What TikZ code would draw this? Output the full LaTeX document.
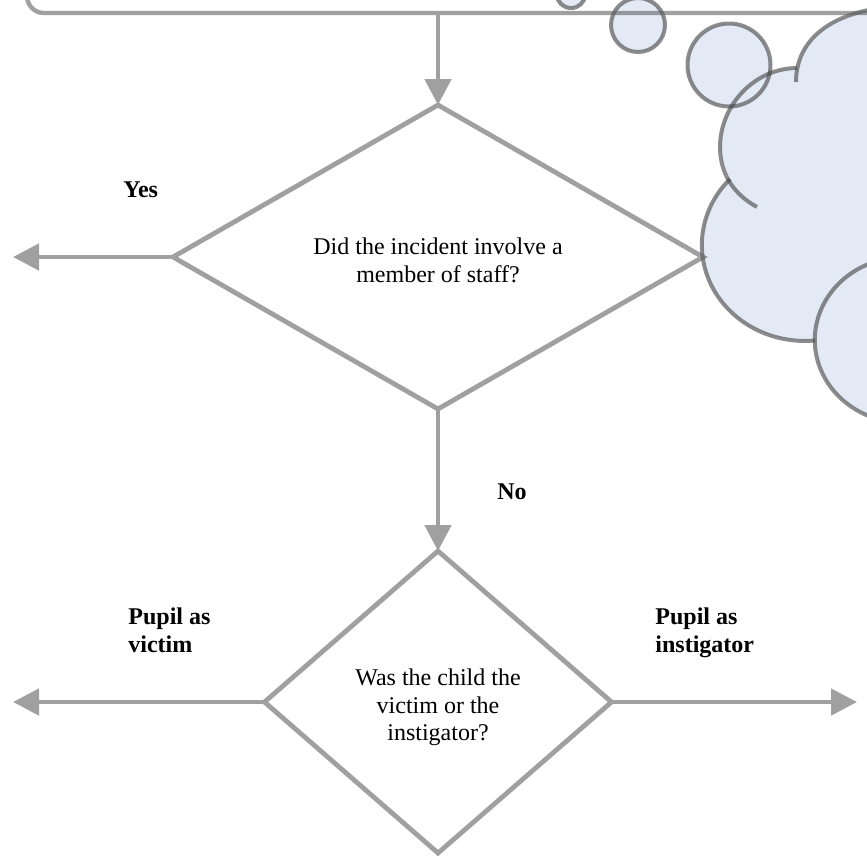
\documentclass[tikz,border=0pt]{standalone}
\usepackage{fontspec}
\setmainfont{Liberation Serif}
\usetikzlibrary{shapes.geometric,arrows.meta}
\definecolor{linegray}{RGB}{96,96,96}
\definecolor{arrowgray}{RGB}{160,160,160}
\definecolor{cloudline}{RGB}{64,64,64}
\definecolor{cloudfill}{RGB}{227,234,245}
\begin{document}
\begin{tikzpicture}[x=0.5pt,y=-0.5pt,
  conn/.style={draw=arrowgray, line width=2.4pt, -{Triangle[length=13pt,width=13pt]}},
  decision/.style={diamond, draw=linegray, draw opacity=0.6, line width=2.4pt, inner sep=0pt, outer sep=0pt},
  boxstyle/.style={rectangle, draw=linegray, draw opacity=0.6, line width=2.2pt, rounded corners=8.5pt, inner sep=0pt, outer sep=0pt},
  cloudstroke/.style={draw=cloudline, draw opacity=0.6, line width=2pt},
  txt/.style={font=\fontsize{12}{14}\selectfont, inner sep=0pt},
  lbl/.style={font=\fontsize{12}{14}\selectfont\bfseries, inner sep=0pt}]
\useasboundingbox (0,0) rectangle (867,859);

% cloud callout fills
\fill[cloudfill] (815,340) arc[start angle=180,end angle=50,x radius=90,y radius=83]
  -- (1000,500) -- (1000,-40) -- (880,8) .. controls (830,15) and (796,40) .. (796,82)
  -- (797,68) .. controls (755,68) and (720,105) .. (720,147)
  .. controls (721,160) and (724,170) .. (730,179)
  arc[start angle=223.4,end angle=84.4,x radius=103,y radius=96] -- cycle;
\fill[cloudfill] (571,-5) ellipse[x radius=14,y radius=13];
\fill[cloudfill] (638,25) ellipse[x radius=27,y radius=27];
\fill[cloudfill] (729,65) ellipse[x radius=41.5,y radius=41.5];

% cloud callout outlines
\draw[cloudstroke] (796,82) .. controls (796,40) and (830,15) .. (880,8);
\draw[cloudstroke] (797,68) .. controls (755,68) and (720,105) .. (720,147)
  .. controls (720,175) and (735,195) .. (757,207);
\draw[cloudstroke] (730,179) arc[start angle=223.4,end angle=84.4,x radius=103,y radius=96];
\draw[cloudstroke] (874,262) arc[start angle=250,end angle=50,x radius=90,y radius=83];
\draw[cloudstroke] (571,-5) ellipse[x radius=14,y radius=13];
\draw[cloudstroke] (638,25) ellipse[x radius=27,y radius=27];
\draw[cloudstroke] (729,65) ellipse[x radius=41.5,y radius=41.5];

% top box (partly visible)
\node[boxstyle, minimum width=536.5pt, minimum height=56.5pt] (topbox) at (563.5,-43.5) {};

% decisions
\node[decision, minimum width=265pt, minimum height=152pt] (d1) at (438,257) {};
\node[decision, minimum width=173.5pt, minimum height=151pt] (d2) at (438,702) {};

\node[txt, anchor=base] (q1a) at (438,254) {Did the incident involve a};
\node[txt, anchor=base] (q1b) at (438,282) {member of staff?};
\node[txt, anchor=base] (q2a) at (438,685) {Was the child the};
\node[txt, anchor=base] (q2b) at (438,713) {victim or the};
\node[txt, anchor=base] (q2c) at (438,740) {instigator?};

\node[lbl, anchor=base west] (yes) at (123,197) {Yes};
\node[lbl, anchor=base west] (no) at (497,499) {No};
\node[lbl, anchor=base west] (pv1) at (128,624) {Pupil as};
\node[lbl, anchor=base west] (pv2) at (128,652) {victim};
\node[lbl, anchor=base west] (pi1) at (655,624) {Pupil as};
\node[lbl, anchor=base west] (pi2) at (655,652) {instigator};

% free ends
\coordinate (yesend) at (13,257);
\coordinate (victimend) at (13,702);
\coordinate (instend) at (857,702);

% connectors
\draw[conn] ([yshift=-1pt]d1.north |- topbox.south) -- (d1.north);
\draw[conn] (d1.west) -- (yesend);
\draw[conn] (d1.south) -- (d2.north);
\draw[conn] (d2.west) -- (victimend);
\draw[conn] (d2.east) -- (instend);
\end{tikzpicture}
\end{document}
